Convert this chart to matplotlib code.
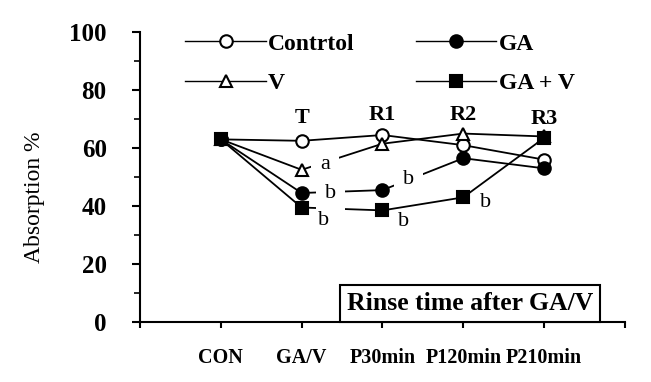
import matplotlib
matplotlib.use('Agg')
import matplotlib.pyplot as plt
from matplotlib.ticker import MultipleLocator

# данные
stages = ['CON', 'GA/V', 'P30min', 'P120min', 'P210min']
control = [63, 62.5, 64.5, 61, 56]
ga = [63, 44.5, 45.5, 56.5, 53]
v = [63, 52.5, 61.5, 65, 64]
ga_v = [63, 39.5, 38.5, 43, 63.5]

phase_labels = ['T', 'R1', 'R2', 'R3']
phase_x = [2, 3, 4, 5]
phase_y = [70.5, 71.5, 71.5, 70.0]

# буквы значимости
sig_x = [2.29, 2.36, 2.27, 3.32, 3.26, 4.28]
sig_y = [54.5, 44.5, 35.0, 49.0, 34.5, 41.2]
sig_txt = ['a', 'b', 'b', 'b', 'b', 'b']
sig_gap = [True, True, False, True, False, False]

serif = 'Liberation Serif'
x = list(range(1, len(stages) + 1))

fig = plt.figure(figsize=(6.51, 3.82), dpi=100)
ax = fig.add_axes([0.215, 0.157, 0.745, 0.759])

lw = 1.3
mew = 1.5
ms = 9
l1, = ax.plot(x, control, '-o', color='black', mfc='white', mec='black', mew=mew, ms=ms, lw=lw, label='Contrtol', zorder=3)
l2, = ax.plot(x, ga, '-o', color='black', mfc='black', mec='black', mew=mew, ms=ms, lw=lw, label='GA', zorder=3)
l3, = ax.plot(x, v, '-^', color='black', mfc='white', mec='black', mew=mew, ms=ms, lw=lw, label='V', zorder=3)
l4, = ax.plot(x, ga_v, '-s', color='black', mfc='black', mec='black', mew=mew, ms=ms, lw=lw, label='GA + V', zorder=3)

for i in range(len(phase_labels)):
    ax.text(phase_x[i], phase_y[i], phase_labels[i], ha='center', va='center',
            fontsize=16, fontweight='bold', family=serif)

for i in range(len(sig_txt)):
    if sig_gap[i]:
        ax.text(sig_x[i], sig_y[i], sig_txt[i], ha='center', va='center', fontsize=16,
                family=serif, zorder=4,
                bbox=dict(boxstyle='square,pad=0.4', fc='white', ec='none'))
    else:
        ax.text(sig_x[i], sig_y[i], sig_txt[i], ha='center', va='center', fontsize=16,
                family=serif, zorder=4)

ax.text(0.68, 0.064, 'Rinse time after GA/V', transform=ax.transAxes, ha='center', va='center',
        fontsize=18.5, fontweight='bold', family=serif,
        bbox=dict(boxstyle='square,pad=0.26', fc='white', ec='black', lw=1.5))

ax.set_xlim(0, 6)
ax.set_ylim(0, 100)
ax.set_xticks(range(0, 7))
ax.set_xticklabels([''] + stages + [''], fontsize=14.5, fontweight='bold', family=serif)
ax.set_yticks(range(0, 101, 20))
ax.set_yticklabels([str(t) for t in range(0, 101, 20)], fontsize=18, fontweight='bold', family=serif)
ax.yaxis.set_minor_locator(MultipleLocator(10))
ax.tick_params(axis='y', which='major', length=6, width=1.5, pad=18)
ax.tick_params(axis='y', which='minor', length=4, width=1.2)
ax.tick_params(axis='x', which='major', length=4, width=1.5, pad=15)

for s in ['top', 'right']:
    ax.spines[s].set_visible(False)
for s in ['left', 'bottom']:
    ax.spines[s].set_linewidth(1.5)

ax.set_ylabel('Absorption %', fontsize=17, family=serif)
ax.yaxis.set_label_coords(-0.195, 0.43)

leg = ax.legend(handles=[l1, l3, l2, l4], ncol=2, loc='upper left', bbox_to_anchor=(0.05, 1.07),
                frameon=False, handlelength=3.4, handletextpad=0.1, columnspacing=2.6,
                labelspacing=0.75, prop={'family': serif, 'weight': 'bold', 'size': 17})
for h in leg.legend_handles:
    h.set_linewidth(1.0)

fig.savefig('out.png', dpi=100)
